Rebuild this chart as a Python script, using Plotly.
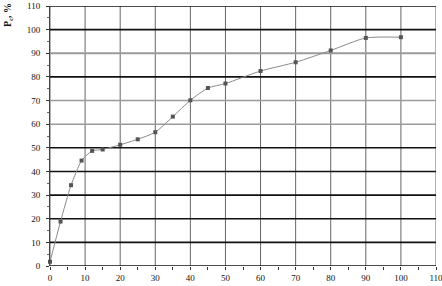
import plotly.graph_objects as go

x_vals = [0, 3, 6, 9, 12, 15, 20, 25, 30, 35, 40, 45, 50, 60, 70, 80, 90, 100]
pc_vals = [1.8, 18.8, 34.2, 44.6, 48.7, 49.3, 51.3, 53.6, 56.6, 63.2, 70.1, 75.3, 77.2, 82.5, 86.2, 91.2, 96.5, 96.8]
tick_vals = list(range(0, 111, 10))
gray_levels = [60, 70, 90]
black_levels = [0, 10, 20, 30, 40, 50, 80, 100, 110]

fig = go.Figure()
fig.add_trace(go.Scatter(
    x=x_vals, y=pc_vals, mode="lines+markers",
    line=dict(color="#8a8a8a", width=1, shape="spline", smoothing=0.6),
    marker=dict(symbol="square", size=4, color="#555555"),
    showlegend=False, cliponaxis=False,
))

shapes = []
for v in tick_vals:
    shapes.append(dict(type="line", xref="x", yref="paper", x0=v, x1=v, y0=0, y1=1,
                       line=dict(color="#666666", width=1), layer="below"))
for v in black_levels:
    shapes.append(dict(type="line", xref="paper", yref="y", x0=0, x1=1, y0=v, y1=v,
                       line=dict(color="#111111", width=1.6), layer="below"))
for v in gray_levels:
    shapes.append(dict(type="line", xref="paper", yref="y", x0=0, x1=1, y0=v, y1=v,
                       line=dict(color="#9a9a9a", width=1.8 if v == 90 else 1.4), layer="below"))

font = dict(family="Liberation Serif", size=9, color="#111111")
fig.update_layout(
    width=442, height=286,
    margin=dict(l=50, r=6, t=6, b=20, autoexpand=False),
    paper_bgcolor="white", plot_bgcolor="white",
    shapes=shapes,
    xaxis=dict(range=[0, 110], tickvals=tick_vals, showgrid=False, zeroline=False, automargin=False,
               showline=False, ticks="outside", ticklen=3, tickcolor="#333", tickwidth=1,
               minor=dict(tickvals=list(range(5, 110, 10)), ticks="outside", ticklen=3, tickcolor="#333"),
               tickfont=font, ticklabelstandoff=0, ticklabeloverflow="allow"),
    yaxis=dict(range=[0, 110], tickvals=tick_vals, showgrid=False, zeroline=False, automargin=False,
               showline=True, linecolor="#444", linewidth=1,
               ticks="outside", ticklen=3, tickcolor="#333",
               minor=dict(tickvals=list(range(5, 110, 10)), ticks="outside", ticklen=2, tickcolor="#666"),
               tickfont=font, ticklabelstandoff=4, ticklabeloverflow="allow"),
)
fig.add_annotation(xref="paper", yref="paper", x=-0.108, y=1.02, xanchor="center", yanchor="top",
                   text="<b>P<sub>c</sub>, %</b>", textangle=-90, showarrow=False,
                   font=dict(family="Liberation Serif", size=10, color="#111"))
fig.write_html("out.html", config={"displayModeBar": False},
               post_script="document.body.style.margin='0';document.body.style.overflow='hidden';")
